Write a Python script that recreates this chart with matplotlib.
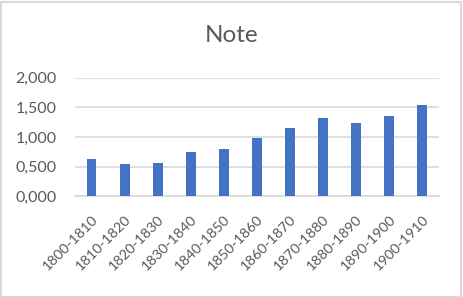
import matplotlib
matplotlib.use("Agg")
import matplotlib.pyplot as plt
from matplotlib.ticker import FuncFormatter
from matplotlib.patches import Rectangle

categories = ["1800-1810", "1810-1820", "1820-1830", "1830-1840", "1840-1850",
              "1850-1860", "1860-1870", "1870-1880", "1880-1890", "1890-1900", "1900-1910"]
values = [0.63, 0.545, 0.56, 0.75, 0.80, 0.99, 1.15, 1.32, 1.24, 1.355, 1.54]
yticks = [0.0, 0.5, 1.0, 1.5, 2.0]
title = "Note"

plt.rcParams['font.family'] = ['Lato', 'DejaVu Sans']
W, H = 463, 297
fig = plt.figure(figsize=(W / 100, H / 100), dpi=100)
ax = fig.add_axes([75 / W, 1 - 196.3 / H, (438.7 - 75) / W, (196.3 - 77.7) / H])

x = range(len(categories))
ax.bar(x, values, width=0.3, color="#4472C4", zorder=3)
ax.set_xlim(-0.5, len(categories) - 0.5)
ax.set_ylim(0, 2.0)
ax.set_yticks(yticks)
ax.yaxis.set_major_formatter(FuncFormatter(lambda v, p: f"{v:.3f}".replace(".", ",")))
ax.set_xticks(list(x))
ax.set_xticklabels(categories, rotation=45, ha="right", rotation_mode="anchor")
ax.tick_params(axis="both", length=0, colors="#595959")
ax.tick_params(axis="y", pad=13, labelsize=11.5)
ax.tick_params(axis="x", pad=12, labelsize=10.4)
for s in ["top", "right", "left"]:
    ax.spines[s].set_visible(False)
ax.spines["bottom"].set_color("#D9D9D9")
ax.spines["bottom"].set_linewidth(1.2)
ax.grid(axis="y", color="#D9D9D9", linewidth=1.2, zorder=0)
ax.set_axisbelow(True)

fig.text(231.5 / W, 1 - 36 / H, title, ha="center", va="center", fontsize=17.5, color="#595959")
fig.patches.append(Rectangle((0.5 / W, 0.5 / H), 1 - 2.5 / W, 1 - 2.5 / H, transform=fig.transFigure,
                             fill=False, edgecolor="#D9D9D9", linewidth=1.5))

fig.savefig("out.png", dpi=100, facecolor="white")
